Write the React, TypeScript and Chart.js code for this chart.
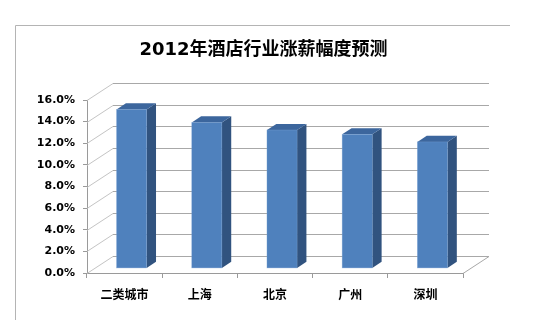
import React, { useEffect, useRef } from "react";
import { Chart, registerables } from "chart.js";

Chart.register(...registerables);

const TITLE = "2012年酒店行业涨薪幅度预测";
const categories = ["二类城市", "上海", "北京", "广州", "深圳"];
const values = [14.7, 13.5, 12.8, 12.4, 11.7];
const yMin = 0;
const yMax = 16;
const yStep = 2;

const DX = 26;
const DY = -17;
const FRONT = 0.27;
const DEPTH = 0.36;

const threeD = {
  id: "threeD",
  afterLayout(chart: any) {
    const tb = chart.titleBlock;
    if (tb) {
      tb.left = 64;
      tb.right = 463;
      tb.width = 399;
    }
  },
  beforeDraw(chart: any) {
    const ctx = chart.ctx;
    ctx.save();
    ctx.fillStyle = "#ffffff";
    ctx.fillRect(0, 0, chart.width, chart.height);
    ctx.strokeStyle = "#b4b4b4";
    ctx.lineWidth = 1;
    ctx.beginPath();
    ctx.moveTo(15.5, 320);
    ctx.lineTo(15.5, 25.5);
    ctx.lineTo(510, 25.5);
    ctx.stroke();
    ctx.restore();
  },
  beforeDatasetsDraw(chart: any) {
    const ctx = chart.ctx;
    const { left, right, bottom } = chart.chartArea;
    const y = chart.scales.y;
    ctx.save();
    ctx.lineWidth = 1;
    y.ticks.forEach((t: any) => {
      const py = Math.round(y.getPixelForValue(t.value)) + 0.5;
      ctx.strokeStyle = "#c4c4c4";
      ctx.beginPath();
      ctx.moveTo(left, py);
      ctx.lineTo(left + DX, py + DY);
      ctx.stroke();
      ctx.strokeStyle = "#a8a8a8";
      ctx.beginPath();
      ctx.moveTo(left + DX, py + DY);
      ctx.lineTo(right + DX, py + DY);
      ctx.stroke();
    });
    ctx.strokeStyle = "#a8a8a8";
    ctx.beginPath();
    ctx.moveTo(right, bottom + 0.5);
    ctx.lineTo(right + DX, bottom + 0.5 + DY);
    ctx.stroke();
    ctx.restore();
  },
  afterDatasetsDraw(chart: any) {
    const ctx = chart.ctx;
    const meta = chart.getDatasetMeta(0);
    ctx.save();
    meta.data.forEach((el: any) => {
      const { x, y, base, width } = el.getProps(["x", "y", "base", "width"], true);
      const fx0 = x - width / 2 + FRONT * DX;
      const fx1 = x + width / 2 + FRONT * DX;
      const ft = y + FRONT * DY;
      const fb = base + FRONT * DY;
      const sdx = DEPTH * DX;
      const sdy = DEPTH * DY;
      ctx.fillStyle = "#31537f";
      ctx.beginPath();
      ctx.moveTo(fx1, ft);
      ctx.lineTo(fx1 + sdx, ft + sdy);
      ctx.lineTo(fx1 + sdx, fb + sdy);
      ctx.lineTo(fx1, fb);
      ctx.closePath();
      ctx.fill();
      ctx.fillStyle = "#3c669d";
      ctx.beginPath();
      ctx.moveTo(fx0, ft);
      ctx.lineTo(fx0 + sdx, ft + sdy);
      ctx.lineTo(fx1 + sdx, ft + sdy);
      ctx.lineTo(fx1, ft);
      ctx.closePath();
      ctx.fill();
      ctx.fillStyle = "#4f81bd";
      ctx.fillRect(fx0, ft, fx1 - fx0, fb - ft);
      ctx.strokeStyle = "rgba(120,160,210,0.6)";
      ctx.lineWidth = 0.6;
      ctx.strokeRect(fx0, ft, fx1 - fx0, fb - ft);
    });
    ctx.restore();
  },
};

export default function App() {
  const ref = useRef<HTMLCanvasElement>(null);
  useEffect(() => {
    document.body.style.margin = "0";
    const chart = new Chart(ref.current as HTMLCanvasElement, {
      type: "bar",
      data: {
        labels: categories,
        datasets: [
          {
            data: values,
            backgroundColor: "rgba(0,0,0,0)",
            borderWidth: 0,
            barPercentage: 0.4,
            categoryPercentage: 1,
          },
        ],
      },
      options: {
        responsive: false,
        animation: false,
        layout: { padding: { left: 20, right: 83, top: 0, bottom: 0 } },
        plugins: {
          legend: { display: false },
          tooltip: { enabled: false },
          title: {
            display: true,
            text: TITLE,
            color: "#000000",
            font: { family: "'DejaVu Sans', 'Noto Sans CJK SC', sans-serif", size: 18, weight: "bold", lineHeight: 1.2 },
            padding: { top: 39.5, bottom: 38.9 },
          },
        },
        scales: {
          x: {
            afterFit: (s: any) => {
              s.height = 47;
            },
            grid: { display: true, drawOnChartArea: false, tickLength: 5, color: "#9a9a9a", offset: true },
            border: { display: true, color: "#9a9a9a" },
            ticks: {
              color: "#000000",
              padding: 9,
              maxRotation: 0,
              font: { family: "'Noto Sans CJK SC', sans-serif", size: 12, weight: "bold" },
            },
          },
          y: {
            min: yMin,
            max: yMax,
            afterFit: (s: any) => {
              s.width = 67;
            },
            grid: { display: true, drawOnChartArea: false, tickLength: 4, color: "#9a9a9a" },
            border: { display: true, color: "#9a9a9a" },
            ticks: {
              stepSize: yStep,
              color: "#000000",
              padding: 8,
              font: { family: "'DejaVu Sans', sans-serif", size: 11, weight: "bold" },
              callback: (v: any) => Number(v).toFixed(1) + "%",
            },
          },
        },
      },
      plugins: [threeD],
    });
    return () => chart.destroy();
  }, []);
  return (
    <div style={{ position: "absolute", left: 0, top: 0, width: 546, height: 320 }}>
      <canvas ref={ref} width={546} height={320} style={{ display: "block" }} />
    </div>
  );
}
